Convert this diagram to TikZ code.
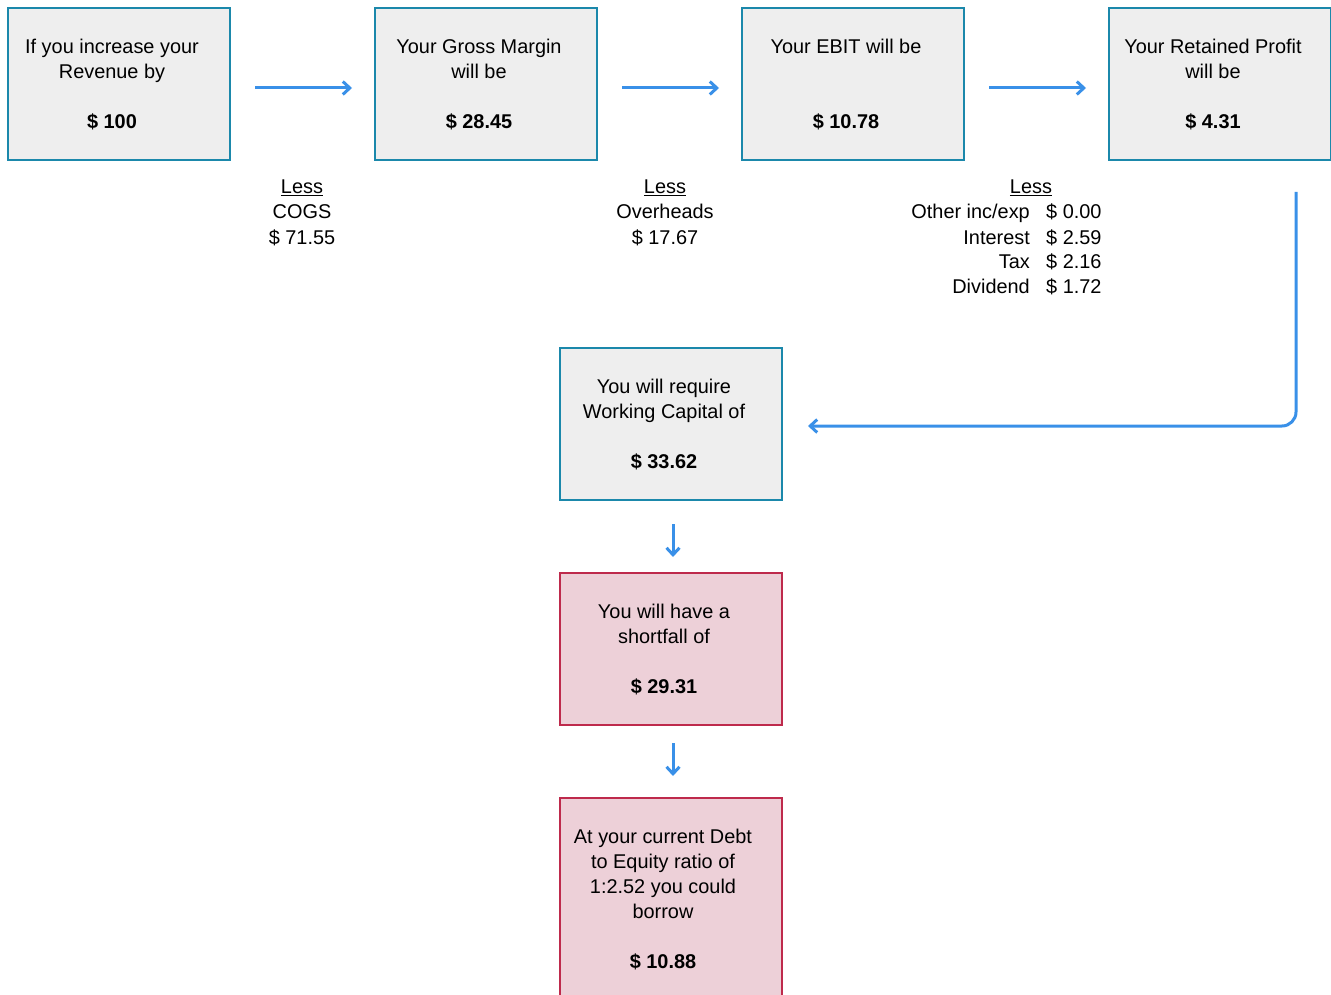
\documentclass[tikz,border=0pt]{standalone}
\usepackage{fontspec}
\setmainfont{Liberation Sans}
\usetikzlibrary{arrows.meta,calc}
\definecolor{tealb}{HTML}{1B88AB}
\definecolor{greyf}{HTML}{EEEEEE}
\definecolor{pinkf}{HTML}{EDD0D8}
\definecolor{redb}{HTML}{BE2A4C}
\definecolor{arrowc}{HTML}{3990E8}
\begin{document}
\begin{tikzpicture}[x=1pt,y=-1pt,
  every node/.style={font=\fontsize{19.9}{25}\selectfont},
  box/.style={draw=tealb,fill=greyf,line width=2pt,minimum width=222pt,minimum height=152pt,inner sep=0pt,anchor=north west},
  pbox/.style={box,draw=redb,fill=pinkf},
  btext/.style={align=center,inner sep=0pt,font=\fontsize{19.9}{25}\selectfont},
  arr/.style={draw=arrowc,line width=3pt,-{Straight Barb[length=7pt,width=13pt,line width=3pt]}},
  lbl/.style={inner sep=0pt,anchor=base},
]
\useasboundingbox (0,0) rectangle (1331,995);
\begin{scope}
\clip (0,0) rectangle (1331,995);
\node[box] (b1) at (7,7) {};
\node[box] (b2) at (374,7) {};
\node[box] (b3) at (741,7) {};
\node[box] (b4) at (1108,7) {};
\node[box] (wc) at (559,347) {};
\node[pbox] (sf) at (559,572) {};
\node[pbox,minimum height=204pt] (bw) at (559,797) {};
\end{scope}
\node[btext] (t1) at ([xshift=-7pt,yshift=-1pt]b1.center) {If you increase your\\Revenue by\\[25pt]\textbf{\$ 100}};
\node[btext] (t2) at ([xshift=-7pt,yshift=-1pt]b2.center) {Your Gross Margin\\will be\\[25pt]\textbf{\$ 28.45}};
\node[btext] (t3) at ([xshift=-7pt,yshift=-1pt]b3.center) {Your EBIT will be\\[50pt]\textbf{\$ 10.78}};
\node[btext] (t4) at ([xshift=-7pt,yshift=-1pt]b4.center) {Your Retained Profit\\will be\\[25pt]\textbf{\$ 4.31}};
\node[btext] (t5) at ([xshift=-7pt,yshift=-1pt]wc.center) {You will require\\Working Capital of\\[25pt]\textbf{\$ 33.62}};
\node[btext] (t6) at ([xshift=-7pt,yshift=-1pt]sf.center) {You will have a\\shortfall of\\[25pt]\textbf{\$ 29.31}};
\node[btext] (t7) at (663,900) {At your current Debt\\to Equity ratio of\\1:2.52 you could\\borrow\\[25pt]\textbf{\$ 10.88}};
% Less labels
\node[lbl] (l1a) at (302,194) {\underline{Less}};
\node[lbl] (l1b) at (302,219) {COGS};
\node[lbl] (l1c) at (302,244) {\$ 71.55};
\node[lbl] (l2a) at (665,194) {\underline{Less}};
\node[lbl] (l2b) at (665,219) {Overheads};
\node[lbl] (l2c) at (665,244) {\$ 17.67};
\node[lbl] (l3a) at (1031,194) {\underline{Less}};
\node[lbl,anchor=base east] (l3b) at (1030,219) {Other inc/exp};
\node[lbl,anchor=base east] (l3c) at (1030,244) {Interest};
\node[lbl,anchor=base east] (l3d) at (1030,269) {Tax};
\node[lbl,anchor=base east] (l3e) at (1030,294) {Dividend};
\node[lbl,anchor=base west] (l3f) at (1046,219) {\$ 0.00};
\node[lbl,anchor=base west] (l3g) at (1046,244) {\$ 2.59};
\node[lbl,anchor=base west] (l3h) at (1046,269) {\$ 2.16};
\node[lbl,anchor=base west] (l3i) at (1046,294) {\$ 1.72};
% connectors
\draw[arr] ([xshift=24pt,yshift=-4pt]b1.east) -- ([xshift=-22pt,yshift=-4pt]b2.west);
\draw[arr] ([xshift=24pt,yshift=-4pt]b2.east) -- ([xshift=-22pt,yshift=-4pt]b3.west);
\draw[arr] ([xshift=24pt,yshift=-4pt]b3.east) -- ([xshift=-22pt,yshift=-4pt]b4.west);
\draw[arr] ([xshift=2pt,yshift=-23pt]wc.south) -- ([xshift=2pt,yshift=15pt]sf.north);
\draw[arr] ([xshift=2pt,yshift=-17pt]sf.south) -- ([xshift=2pt,yshift=21pt]bw.north);
\coordinate (rs) at ([xshift=76pt,yshift=-31pt]b4.south);
\draw[arr,rounded corners=14pt] (rs) -- (rs |- {$(wc.east)+(0,2)$}) -- ([xshift=25pt,yshift=-2pt]wc.east);
\end{tikzpicture}
\end{document}
